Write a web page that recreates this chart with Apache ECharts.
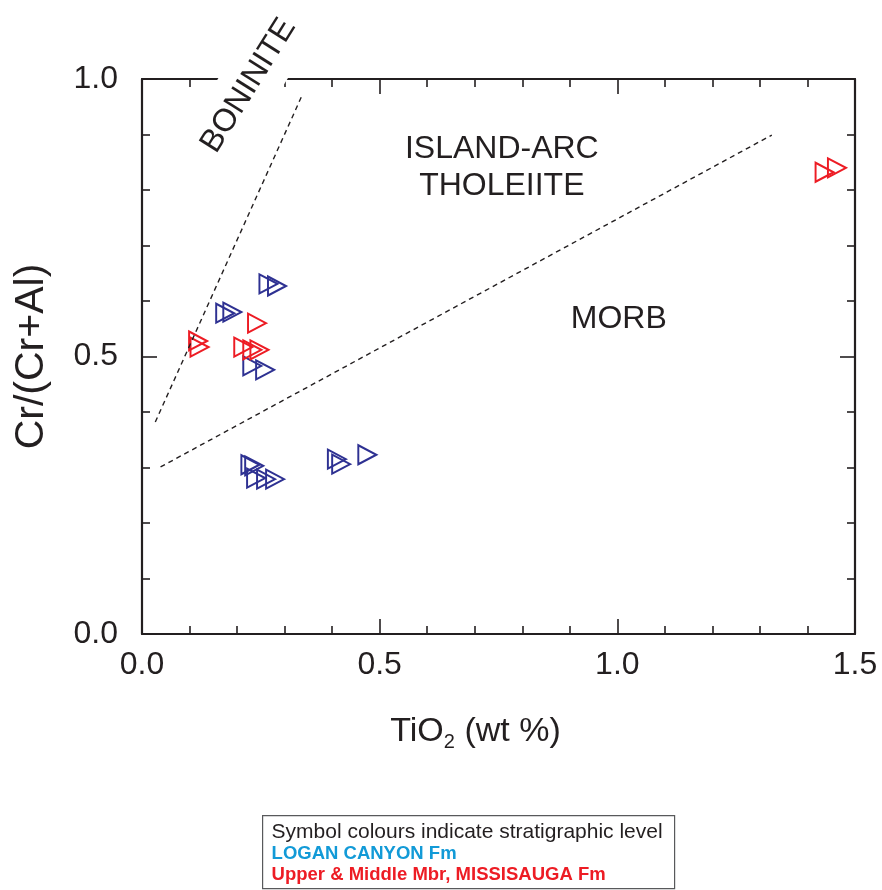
<!DOCTYPE html>
<html style="height: 100%">
<head>
    <meta charset="utf-8">
    <script src="https://cdn.jsdelivr.net/npm/echarts@6/dist/echarts.min.js"></script>
</head>
<body style="height: 100%; margin: 0; background: #fff">
<div id="chart" style="width: 882px; height: 890px;"></div>
<script type="text/javascript">
// TiO2 (wt %), Cr/(Cr+Al)
var loganCanyon = [
    [0.266, 0.631], [0.284, 0.627], [0.175, 0.578], [0.190, 0.580],
    [0.232, 0.483], [0.259, 0.476], [0.228, 0.305], [0.236, 0.303],
    [0.240, 0.281], [0.261, 0.279], [0.280, 0.279], [0.410, 0.315],
    [0.419, 0.306], [0.474, 0.323]
];
var missisauga = [
    [0.118, 0.528], [0.121, 0.517], [0.242, 0.560], [0.213, 0.517],
    [0.232, 0.512], [0.247, 0.512], [1.436, 0.832], [1.462, 0.840]
];
// field boundaries
var boniniteLine = [[0.028, 0.382], [0.337, 0.971]];
var morbLine = [[0.039, 0.301], [1.325, 0.899]];
// field names: text, x, y, rotation
var fieldLabels = [
    ['ISLAND-ARC\nTHOLEIITE', 0.757, 0.840, 0],
    ['MORB', 1.003, 0.568, 0],
    ['BONINITE', 0.224, 0.988, 58]
];
var xRange = [0, 1.5];
var yRange = [0, 1.0];

var ink = '#231f20';
var font = 'Liberation Sans, Arial, sans-serif';

var dom = document.getElementById('chart');
var myChart = echarts.init(dom);

function frameAxis(pos, range, show) {
    return {
        type: 'value',
        position: pos,
        min: range[0],
        max: range[1],
        interval: 0.5,
        splitLine: {show: false},
        axisLine: {show: true, onZero: false, lineStyle: {color: ink, width: 2.2}},
        axisTick: {show: true, inside: true, length: 15, lineStyle: {color: ink, width: 1.6}},
        minorTick: {show: true, splitNumber: 5, length: 8, lineStyle: {color: ink, width: 1.6}},
        axisLabel: {
            show: show,
            fontSize: 32,
            fontFamily: font,
            color: ink,
            margin: 15,
            formatter: function (v) { return v.toFixed(1); }
        }
    };
}

var xBottom = frameAxis('bottom', xRange, true);
xBottom.name = 'TiO{sub|2} (wt %)';
xBottom.nameLocation = 'middle';
xBottom.nameGap = 78;
xBottom.nameTextStyle = {
    fontSize: 34, fontFamily: font, color: ink, lineHeight: 40,
    padding: [0, 46, 0, 0],
    rich: {sub: {fontSize: 20, fontFamily: font, color: ink, lineHeight: 12, verticalAlign: 'bottom'}}
};
var yLeft = frameAxis('left', yRange, true);
yLeft.axisLabel.margin = 24;
yLeft.name = 'Cr/(Cr+Al)';
yLeft.nameLocation = 'middle';
yLeft.nameGap = 90;
yLeft.nameTextStyle = {fontSize: 41, fontFamily: font, color: ink};

var option = {
    animation: false,
    backgroundColor: '#fff',
    grid: {left: 142, right: 27, top: 79, bottom: 256},
    xAxis: [xBottom, frameAxis('top', xRange, false)],
    yAxis: [yLeft, frameAxis('right', yRange, false)],
    series: [
        {
            type: 'line',
            data: boniniteLine,
            symbol: 'none',
            lineStyle: {color: ink, width: 1.4, type: [5, 4]}
        },
        {
            type: 'line',
            data: morbLine,
            symbol: 'none',
            lineStyle: {color: ink, width: 1.4, type: [5, 4]}
        },
        {
            name: 'LOGAN CANYON Fm',
            type: 'scatter',
            data: loganCanyon,
            symbol: 'triangle',
            symbolRotate: -90,
            symbolSize: [19, 18],
            itemStyle: {color: 'transparent', borderColor: '#2e3192', borderWidth: 2, opacity: 1}
        },
        {
            name: 'Upper & Middle Mbr, MISSISAUGA Fm',
            type: 'scatter',
            data: missisauga,
            symbol: 'triangle',
            symbolRotate: -90,
            symbolSize: [19, 18],
            itemStyle: {color: 'transparent', borderColor: '#ed1c24', borderWidth: 2, opacity: 1}
        }
    ]
};
myChart.setOption(option);

// field names placed from data coordinates, plus the colour note box
var graphics = fieldLabels.map(function (f) {
    var p = myChart.convertToPixel({xAxisIndex: 0, yAxisIndex: 0}, [f[1], f[2]]);
    return {
        type: 'text',
        x: p[0],
        y: p[1],
        rotation: f[3] * Math.PI / 180,
        z: 100,
        style: {
            text: f[0],
            fontSize: 32,
            fontFamily: font,
            fill: ink,
            align: 'center',
            verticalAlign: 'middle',
            lineHeight: 37,
            backgroundColor: f[3] ? '#fff' : null,
            padding: f[3] ? [11, 2] : 0
        }
    };
});
graphics.push({
    type: 'group',
    left: 262,
    top: 815,
    z: 100,
    children: [
        {type: 'rect', shape: {x: 0, y: 0, width: 412, height: 73},
            style: {fill: '#fff', stroke: '#58595b', lineWidth: 1.2}},
        {type: 'text', x: 9, y: 17, style: {text: 'Symbol colours indicate stratigraphic level',
            fontSize: 21, fontFamily: font, fill: ink, verticalAlign: 'middle'}},
        {type: 'text', x: 9, y: 38, style: {text: 'LOGAN CANYON Fm', fontWeight: 'bold',
            fontSize: 18.5, fontFamily: font, fill: '#129ad7', verticalAlign: 'middle'}},
        {type: 'text', x: 9, y: 59, style: {text: 'Upper & Middle Mbr, MISSISAUGA Fm', fontWeight: 'bold',
            fontSize: 18.5, fontFamily: font, fill: '#ed1c24', verticalAlign: 'middle'}}
    ]
});
myChart.setOption({graphic: graphics});
</script>
</body>
</html>
